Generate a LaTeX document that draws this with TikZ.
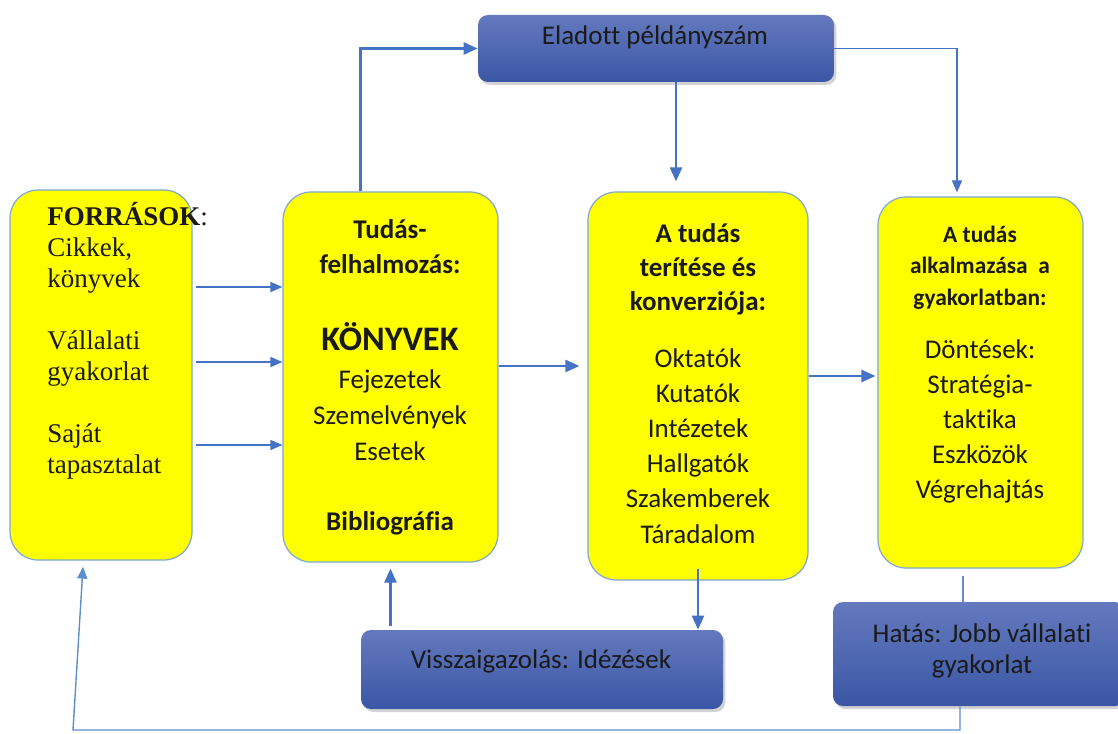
\documentclass[tikz,border=0pt]{standalone}
\usepackage{fontspec}
\setmainfont{Carlito}[Ligatures=CommonOff]
\newfontfamily\timesfont{Liberation Serif}
\usetikzlibrary{arrows.meta, shadows}
\definecolor{boxyellow}{RGB}{255,255,0}
\definecolor{linkblue}{HTML}{4472C4}
\definecolor{lightlink}{HTML}{5B8FD0}
\definecolor{boxedge}{HTML}{7DA6D3}
\definecolor{bluetop}{HTML}{6479BE}
\definecolor{bluebot}{HTML}{3A57A5}
\definecolor{inktext}{HTML}{1A1A1A}

\begin{document}
\begin{tikzpicture}[x=0.5pt, y=-0.5pt,
  ybox/.style={draw=boxedge, line width=0.6pt, fill=boxyellow, rounded corners=14pt, inner sep=0pt},
  bbox/.style={rounded corners=5pt, top color=bluetop, bottom color=bluebot, inner sep=0pt,
    drop shadow={shadow xshift=1.2pt, shadow yshift=-1.5pt, opacity=0.35}},
  txt/.style={inner sep=0pt, align=center, text=inktext, font={\fontsize{13.5}{17.5}\selectfont}},
  arr/.style={draw=linkblue, line width=1.2pt, -{Triangle[length=7pt, width=6pt]}},
  thinarr/.style={draw=linkblue, line width=0.8pt, -{Triangle[length=6pt, width=5pt]}},
  thinline/.style={draw=lightlink, line width=0.7pt}]
\useasboundingbox (0,0) rectangle (1118,733);
\node[ybox, minimum width=91pt, minimum height=185pt] (forras) at (101,375) {};
\node[ybox, minimum width=107.5pt, minimum height=185pt] (felh) at (390.5,377) {};
\node[ybox, minimum width=110pt, minimum height=194pt] (teri) at (698,386) {};
\node[ybox, minimum width=102.5pt, minimum height=185.5pt] (alk) at (980.5,382.5) {};
\node[bbox, minimum width=178pt, minimum height=33.5pt] (elad) at (656,48.5) {};
\node[bbox, minimum width=181pt, minimum height=39.5pt] (vissza) at (542,669.5) {};
\node[bbox, minimum width=146pt, minimum height=52pt] (hatas) at (979,654) {};

\node[txt, anchor=base west, align=left, font={\timesfont\fontsize{13.5}{15.5}\selectfont}] (forrastext) at (47,473)
  {\textbf{FORRÁSOK}:\\Cikkek,\\könyvek\\[15.5pt]Vállalati\\gyakorlat\\[15.5pt]Saját\\tapasztalat};
\node[txt, anchor=base, font={\bfseries\fontsize{13.5}{17.5}\selectfont}] (felhhead) at (390,273) {Tudás-\\felhalmozás:};
\node[txt, anchor=base, font={\bfseries\fontsize{17.2}{17.5}\selectfont}] (konyvek) at (390,350) {KÖNYVEK};
\node[txt, anchor=base, font={\fontsize{13.5}{18}\selectfont}] (felhlist) at (390,460) {Fejezetek\\Szemelvények\\Esetek};
\node[txt, anchor=base, font={\bfseries\fontsize{13.5}{17.5}\selectfont}] (biblio) at (390,530) {Bibliográfia};
\node[txt, anchor=base, font={\bfseries\fontsize{13.5}{17}\selectfont}] (terihead) at (698,310) {A tudás\\terítése és\\konverziója:};
\node[txt, anchor=base, font={\fontsize{13.5}{17.6}\selectfont}] (terilist) at (698,543)
  {Oktatók\\Kutatók\\Intézetek\\Hallgatók\\Szakemberek\\Táradalom};
\node[txt, anchor=base, font={\bfseries\fontsize{11.7}{15.75}\selectfont}] (alkhead) at (980,305) {A tudás\\alkalmazása~~a\\gyakorlatban:};
\node[txt, anchor=base] (alklist) at (980,498) {Döntések:\\Stratégia-\\taktika\\Eszközök\\Végrehajtás};
\node[txt, anchor=base] (eladtext) at (655,45) {Eladott példányszám};
\node[txt, anchor=base] (visszatext) at (541,668) {Visszaigazolás: Idézések};
\node[txt, anchor=base, font={\fontsize{13.5}{15.5}\selectfont}] (hatastext) at (982,673) {Hatás: Jobb vállalati\\gyakorlat};

\coordinate (loopcorner) at (73,730);
\foreach \y in {287,362,445}
  \draw[thinarr, shorten <=1.5pt] (forras.east |- 0,\y) -- (felh.west |- 0,\y);
\draw[arr, shorten >=4pt] (felh.east |- 0,366) -- (teri.west |- 0,366);
\draw[arr, shorten >=1pt] (teri.east |- 0,376) -- (alk.west |- 0,376);
\draw[arr] ([xshift=-15pt]felh.north) |- (elad.west);
\draw[arr, shorten >=5pt] (elad.south -| 676,0) -- (teri.north -| 676,0);
\draw[thinarr, shorten >=2pt] (elad.east) -| ([xshift=-11.75pt]alk.north);
\draw[arr] ([yshift=6pt]teri.south) -- (teri.south |- vissza.north);
\draw[arr, shorten <=2pt, shorten >=3pt] (felh.south |- vissza.north) -- (felh.south);
\draw[thinline, shorten <=3.5pt] ([xshift=-8.75pt]alk.south) -- ([xshift=-8pt]hatas.north);
\draw[thinline, -{Triangle[length=6pt, width=5pt]}] ([xshift=-9.5pt]hatas.south) |- (loopcorner)
  -- ([xshift=-9pt, yshift=-3pt]forras.south);
\end{tikzpicture}
\end{document}
